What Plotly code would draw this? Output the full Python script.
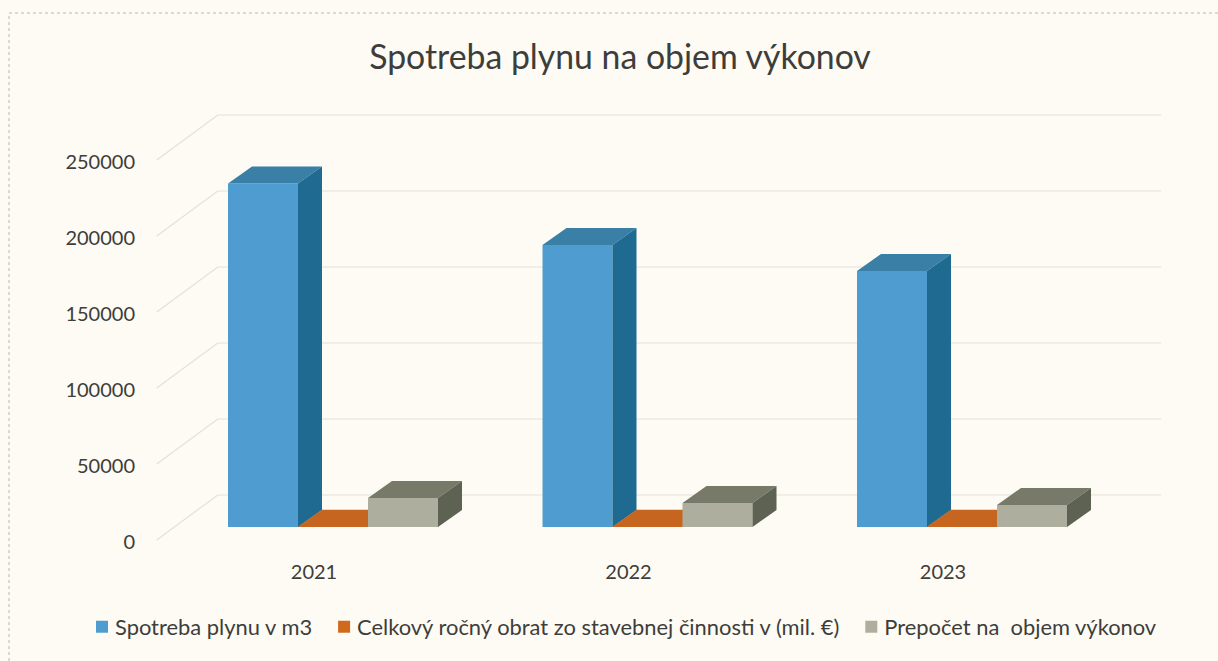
import plotly.graph_objects as go

years = ["2021", "2022", "2023"]
gas_m3 = [226000, 185500, 168400]
turnover_meur = [210, 230, 220]
recalculated = [19000, 15800, 14500]
series_names = ["Spotreba plynu v m3", "Celkový ročný obrat zo stavebnej činnosti v (mil. €)", "Prepočet na  objem výkonov"]
y_ticks = [0, 50000, 100000, 150000, 200000, 250000]

W, H = 1218, 661
L, B = 140, 103
PX_X = 314.5            # pixels per category
PX_Y = 76 / 50000       # pixels per value unit
ZERO_PX = 542
x_range = [(L - 314) / PX_X, (W - 314) / PX_X]
y_range = [-(H - B - ZERO_PX) / PX_Y, ZERO_PX / PX_Y]

bar_w = 70 / PX_X
shift_x, shift_y = 19 / PX_X, 15 / PX_Y
dep_x, dep_y = 24 / PX_X, 17 / PX_Y
wall_x, wall_y = 61 / PX_X, 47 / PX_Y
wall_start = 2 / PX_Y

FONT = "Lato"
TXT = "#3d3d3b"
BG = "#fdfbf3"
styles = [("#4f9dd0", "#3a7fa5", "#1f6a90"),
          ("#d0691c", "#c5651f", "#a85518"),
          ("#aeae9e", "#777a68", "#5d6253")]
axes = [("x", "y"), ("x", "y"), ("x2", "y2")]

fig = go.Figure()
all_series = [gas_m3, turnover_meur, recalculated]
for i, vals in enumerate(all_series):
    front, top, side = styles[i]
    xa, ya = axes[i]
    xs = [k + shift_x for k in range(len(years))]
    fig.add_trace(go.Bar(x=xs, y=vals, base=[shift_y] * 3, width=bar_w,
                         offset=(i - 1.5) * bar_w, name=series_names[i],
                         marker=dict(color=front, line=dict(width=0)),
                         xaxis=xa, yaxis=ya, hoverinfo="skip"))
    tx, ty, sx, sy = [], [], [], []
    for k, v in enumerate(vals):
        x0 = k + shift_x + (i - 1.5) * bar_w
        x1 = x0 + bar_w
        y1 = shift_y + v
        tx += [x0, x0 + dep_x, x1 + dep_x, x1, x0, None]
        ty += [y1, y1 + dep_y, y1 + dep_y, y1, y1, None]
        sx += [x1, x1 + dep_x, x1 + dep_x, x1, x1, None]
        sy += [shift_y, shift_y + dep_y, y1 + dep_y, y1, shift_y, None]
    for px, py, col in ((tx, ty, top), (sx, sy, side)):
        fig.add_trace(go.Scatter(x=px, y=py, mode="lines", fill="toself", fillcolor=col,
                                 line=dict(width=0), showlegend=False, hoverinfo="skip",
                                 xaxis=xa, yaxis=ya))

# depth gridlines on the side wall and back wall
for t in y_ticks:
    fig.add_shape(type="path", layer="below",
                  path=f"M {-0.5} {t + wall_start} L {-0.5 + wall_x} {t + wall_y} L {2.5 + wall_x} {t + wall_y}",
                  line=dict(color="#e3e1d8", width=1.2))

# dotted chart frame: top and left edges only are visible in the scan
frame = dict(type="line", xref="paper", yref="paper", layer="below",
             line=dict(color="#b9b8ae", width=1, dash="dot"))
left_x = (9 - L) / (W - L)
top_y = (H - B - 13) / (H - B)
fig.add_shape(x0=left_x, x1=1, y0=top_y, y1=top_y, **frame)
fig.add_shape(x0=left_x, x1=left_x, y0=(H - B - H) / (H - B), y1=top_y, **frame)

axis_off = dict(visible=False, fixedrange=True)
fig.update_layout(
    width=W, height=H, autosize=False,
    margin=dict(l=L, r=0, t=0, b=B, pad=0),
    paper_bgcolor=BG, plot_bgcolor="rgba(0,0,0,0)",
    barmode="overlay",
    font=dict(family=FONT, color=TXT, size=20),
    title=dict(text="Spotreba plynu na objem výkonov", x=620 / W, xanchor="center",
               y=1 - 57 / H, yanchor="middle", font=dict(size=33.8, family=FONT, color=TXT)),
    xaxis=dict(range=x_range, tickmode="array", tickvals=[0, 1, 2], ticktext=years,
               showgrid=False, zeroline=False, showline=False, ticks="",
               ticklen=0, tickfont=dict(size=20, family=FONT, color=TXT), fixedrange=True),
    yaxis=dict(range=y_range, tickmode="array", tickvals=y_ticks,
               ticktext=[str(t) for t in y_ticks], showgrid=False, zeroline=False,
               showline=False, ticks="", ticklabelstandoff=4,
               tickfont=dict(size=20, family=FONT, color=TXT), fixedrange=True),
    xaxis2=dict(range=x_range, overlaying="x", **axis_off),
    yaxis2=dict(range=y_range, overlaying="y", **axis_off),
    legend=dict(orientation="h", x=(75 - L) / (W - L), xanchor="left",
                y=-(627 - (H - B)) / (H - B), yanchor="middle",
                font=dict(size=21.9, family=FONT, color=TXT), bgcolor="rgba(0,0,0,0)"),
)
post = (
    "document.body.style.margin='0';"
    f"document.body.style.background='{BG}';"
    "document.documentElement.style.overflow='hidden';"
    "setTimeout(function(){document.querySelectorAll('.legendsymbols').forEach("
    "function(g){g.setAttribute('transform','translate(7,0)');});},50);"
)
fig.write_html("out.html", config=dict(displayModeBar=False), post_script=post)
